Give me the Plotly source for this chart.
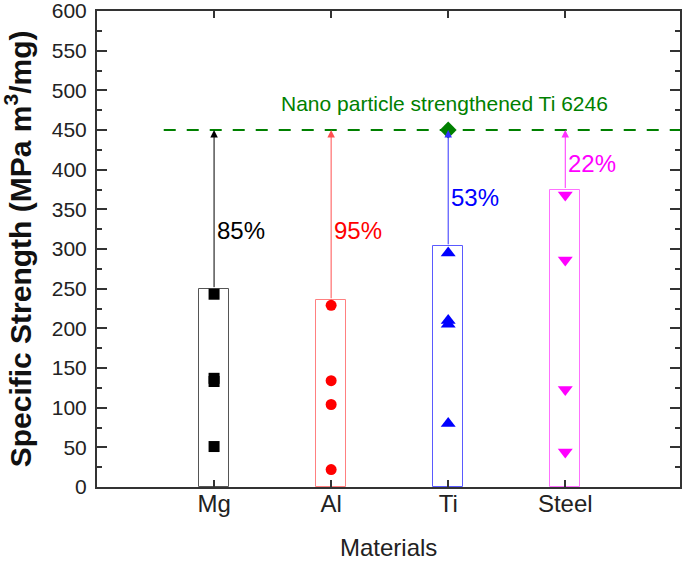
import plotly.graph_objects as go

materials = ["Mg", "Al", "Ti", "Steel"]
positions = [1, 2, 3, 4]
bar_tops = [250, 236, 304, 375]
mg_vals = [243, 137, 133, 51]
al_vals = [229, 134, 104, 22]
ti_vals = [295, 210, 205, 80]
steel_vals = [368, 286, 123, 44]
target_value = 450
target_label = "Nano particle strengthened Ti 6246"
improvements = ["85%", "95%", "53%", "22%"]
y_ticks = list(range(0, 601, 50))

colors = ["#000000", "#ff0000", "#0000ff", "#ff00ff"]
bar_line_colors = ["#555555", "#ff8080", "#5a5aff", "#ff70ff"]
symbols = ["square", "circle", "triangle-up", "triangle-down"]
series = [mg_vals, al_vals, ti_vals, steel_vals]

FONT = "Liberation Sans, Arial"

fig = go.Figure()

fig.add_trace(go.Bar(
    x=positions, y=bar_tops, width=0.26,
    marker=dict(color="rgba(0,0,0,0)", line=dict(color=bar_line_colors, width=1)),
    showlegend=False, hoverinfo="skip",
))

for pos, vals, col, sym in zip(positions, series, colors, symbols):
    fig.add_trace(go.Scatter(
        x=[pos] * len(vals), y=vals, mode="markers",
        marker=dict(symbol=sym, color=col, size=11 if sym in ("square", "circle") else 13),
        showlegend=False,
    ))

# target line
fig.add_shape(type="line", xref="x", yref="y", x0=0.57, x1=4.98, y0=target_value, y1=target_value,
              line=dict(color="#008000", width=2, dash="12px,11px"))
fig.add_trace(go.Scatter(x=[3], y=[target_value], mode="markers",
                         marker=dict(symbol="diamond", color="#008000", size=13),
                         showlegend=False))
fig.add_annotation(x=2.97, y=target_value, yshift=27, text=target_label, showarrow=False,
                   font=dict(color="#008000", size=21, family=FONT))

# arrows
arrow_line_colors = ["#000000", "#ff5050", "#3030ff", "#ff30ff"]
for pos, top, col in zip(positions, bar_tops, arrow_line_colors):
    fig.add_annotation(x=pos, y=target_value, ax=pos, ay=top, xref="x", yref="y",
                       axref="x", ayref="y", text="", showarrow=True,
                       arrowhead=2, arrowsize=1.5, arrowwidth=1, arrowcolor=col,
                       standoff=0, startstandoff=0)

label_y = [323, 323, 365, 408]
for pos, txt, col, ly in zip(positions, improvements, colors, label_y):
    fig.add_annotation(x=pos, y=ly, xshift=1, text=txt, showarrow=False, xanchor="left",
                       font=dict(color=col, size=24, family=FONT))

axis_font = dict(family=FONT, color="#222222")
fig.update_xaxes(
    range=[0, 4.98], tickvals=positions, ticktext=materials,
    ticks="inside", ticklen=7, tickcolor="#333333", tickwidth=2,
    showline=True, linecolor="#333333", linewidth=2, mirror="ticks",
    showgrid=False, zeroline=False, automargin=False,
    ticklabelstandoff=-6,
    tickfont=dict(size=24, **axis_font),
)
fig.update_yaxes(
    range=[0, 600], tickvals=y_ticks,
    ticks="inside", ticklen=10, tickcolor="#333333", tickwidth=2,
    minor=dict(dtick=25, ticks="inside", ticklen=5, tickcolor="#333333", tickwidth=2, showgrid=False),
    showline=True, linecolor="#333333", linewidth=2, mirror="ticks",
    showgrid=False, zeroline=False, automargin=False,
    ticklabeloverflow="allow", ticklabelstandoff=4,
    tickfont=dict(size=21, **axis_font),
)
# axis titles
fig.add_annotation(text="Materials", xref="paper", yref="paper", x=0.5, y=-0.128,
                   xanchor="center", yanchor="middle", showarrow=False,
                   font=dict(size=24, **axis_font))
fig.add_annotation(text="<b>Specific Strength (MPa m<sup>3</sup>/mg)</b>", xref="paper", yref="paper",
                   x=-0.135, y=0.5, xanchor="center", yanchor="middle", textangle=-90, showarrow=False,
                   font=dict(size=30, family=FONT, color="#111111"))
fig.update_layout(
    width=685, height=563,
    margin=dict(l=97, r=5, t=11, b=76),
    plot_bgcolor="white", paper_bgcolor="white",
    bargap=0,
)
fig.write_html("out.html", config={"displayModeBar": False},
               post_script="document.body.style.margin='0';document.body.style.overflow='hidden';")
